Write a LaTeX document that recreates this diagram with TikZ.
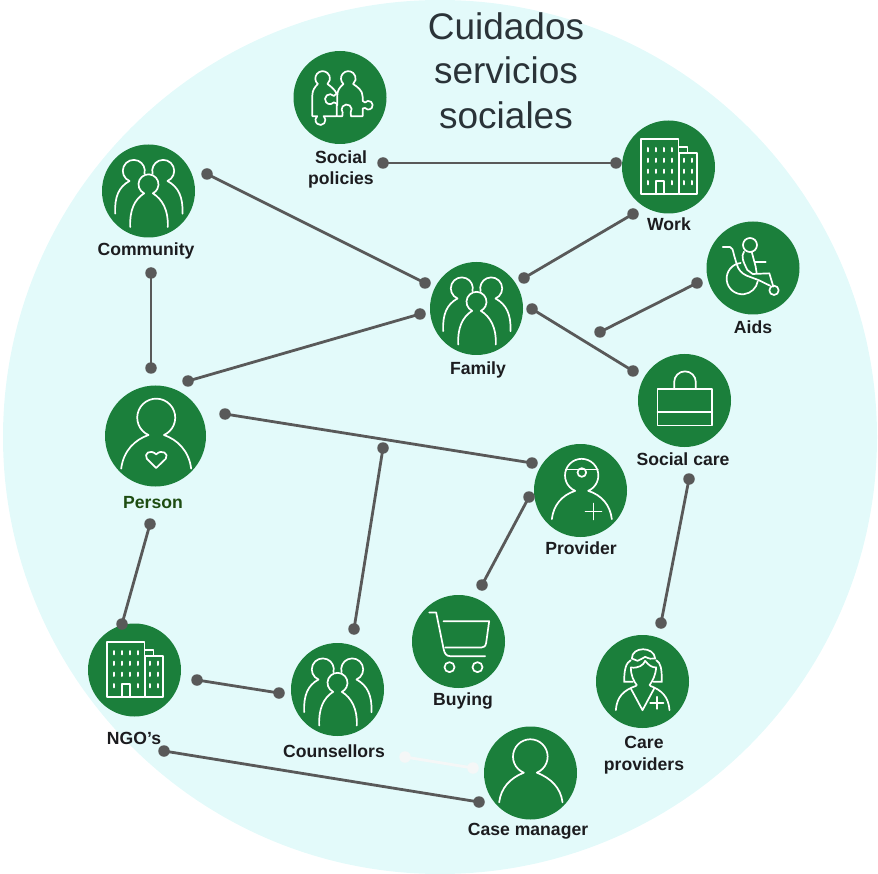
\documentclass[tikz,border=0pt]{standalone}
\usepackage{fontspec}
\setmainfont{Liberation Sans}
\definecolor{bgc}{HTML}{E3FAFA}
\definecolor{hubc}{HTML}{1B7F3B}
\definecolor{linkc}{HTML}{595959}
\definecolor{txtc}{HTML}{1C1C1F}
\definecolor{titlec}{HTML}{2A3338}
\definecolor{personc}{HTML}{1E4D12}
\definecolor{ghostc}{HTML}{F5F7F7}
\tikzset{
  hub/.style={circle,fill=hubc,draw=none,inner sep=0pt,minimum size=93pt},
  bighub/.style={hub,minimum size=101pt},
  dotend/.style={circle,fill=linkc,draw=none,inner sep=0pt,minimum size=11.5pt},
  ghostend/.style={dotend,fill=ghostc},
  link/.style={draw=linkc,line width=2.8pt},
  ghostlink/.style={draw=ghostc,line width=2.8pt},
  lbl/.style={font=\fontsize{17.6}{21.6}\selectfont\bfseries,text=txtc,align=center,inner sep=0pt},
  ttl/.style={font=\fontsize{37}{44.3}\selectfont,text=titlec,align=center,inner sep=0pt},
  iconline/.style={draw=white,line width=1.7pt,line cap=round,line join=round},
  windowline/.style={iconline,line width=2pt}
}
% every icon is drawn in 3x units around its circle's centre
\newcommand{\groupicon}[2]{\begin{scope}[shift={(#1pt,-#2pt)},x=.3333pt,y=-.3333pt,shift={(-160,-167)}]
  \draw[iconline] (60,235) .. controls (58,185) and (70,155) .. (103,137) arc[start angle=113,end angle=375,radius=33];
  \draw[iconline] (262,235) .. controls (264,185) and (250,155) .. (217,137) arc[start angle=67,end angle=-195,radius=33];
  \draw[iconline] (105,275) .. controls (103,225) and (118,192) .. (147,174) arc[start angle=115.7,end angle=424.3,radius=30] .. controls (202,192) and (220,225) .. (218,275);
\end{scope}}
\newcommand{\buildingicon}[2]{\begin{scope}[shift={(#1pt,-#2pt)},x=.3333pt,y=-.3333pt,shift={(-175,-170)}]
  \draw[iconline] (92,87) rectangle (205,252);
  \draw[iconline] (207,127) rectangle (260,252);
  \draw[iconline] (207,110) -- (232,110) -- (232,127);
  \draw[iconline] (138,252) -- (138,212) -- (162,212) -- (162,252);
  \foreach \wx in {112,137,160,185}{\foreach \wy in {118,150,183}{\draw[windowline] (\wx,\wy-5) -- (\wx,\wy+5);}}
  \foreach \wx in {112,185,220,245}{\draw[windowline] (\wx,212) -- (\wx,222);}
  \foreach \wx in {220,245}{\foreach \wy in {150,183}{\draw[windowline] (\wx,\wy-5) -- (\wx,\wy+5);}}
\end{scope}}
\newcommand{\puzzleicon}[2]{\begin{scope}[shift={(#1pt,-#2pt)},x=.3333pt,y=-.3333pt,shift={(-180,-172)}]
  \draw[iconline] (97,228) -- (97,165) .. controls (97,150) and (105,140) .. (113.5,131.6) arc[start angle=131,end angle=409,radius=22] .. controls (155,140) and (165,150) .. (170,160) -- (161.5,167.4) arc[start angle=-40,end angle=-320,radius=15] -- (170,190) -- (170,228) -- (131,228) arc[start angle=-50,end angle=230,radius=15] -- (109,228) -- cycle;
  \draw[iconline] (172,195) -- (172,165) .. controls (172,150) and (180,140) .. (190.5,131.6) arc[start angle=131,end angle=409,radius=22] .. controls (232,140) and (248,150) .. (248,170) -- (248,182) -- (255,187) arc[start angle=-141,end angle=141,radius=13] -- (248,205) -- (248,228) -- (213,228) -- (212,217) arc[start angle=37,end angle=-217,radius=15] -- (187,228) -- (172,228);
\end{scope}}
\newcommand{\wheelicon}[2]{\begin{scope}[shift={(#1pt,-#2pt)},x=.3333pt,y=-.3333pt,shift={(-429,-474)}]
  \draw[iconline] (420,405) circle[radius=21];
  \draw[iconline] (338,411) -- (360,411) .. controls (368,412) and (368,420) .. (372,435) -- (380,462) .. controls (385,480) and (395,490) .. (410,497) -- (445,510) -- (480,527);
  \draw[iconline] (402,425) .. controls (392,440) and (400,455) .. (412,480) -- (428,492) -- (478,490) -- (490,530);
  \draw[iconline] (425,425) -- (437,470) -- (440,490);
  \draw[iconline] (435,456) -- (467,456);
  \draw[iconline] (392,459) arc[start angle=-96,end angle=-350,radius=47];
  \draw[iconline] (492,541) circle[radius=14];
\end{scope}}
\newcommand{\personicon}[2]{\begin{scope}[shift={(#1pt,-#2pt)},x=.3333pt,y=-.3333pt,shift={(-181,-167)}]
  \draw[iconline] (78,265) .. controls (85,210) and (120,178) .. (160,164) arc[start angle=114,end angle=426,radius=57] .. controls (246,178) and (281,210) .. (288,265);
  \draw[iconline] (183,263) -- (155,235) .. controls (145,220) and (165,205) .. (183,222) .. controls (200,205) and (222,220) .. (212,235) -- cycle;
\end{scope}}
\newcommand{\bagicon}[2]{\begin{scope}[shift={(#1pt,-#2pt)},x=.3333pt,y=-.3333pt,shift={(-478,-150)}]
  \draw[iconline] (397,115) rectangle (561,225);
  \draw[iconline] (397,185) -- (561,185);
  \draw[iconline] (447,115) -- (447,95) arc[start angle=180,end angle=360,radius=32.5] -- (512,115);
\end{scope}}
\newcommand{\doctoricon}[2]{\begin{scope}[shift={(#1pt,-#2pt)},x=.3333pt,y=-.3333pt,shift={(-166,-421)}]
  \draw[iconline] (80,507) .. controls (85,465) and (110,435) .. (150,422) arc[start angle=113,end angle=427,radius=50] .. controls (230,435) and (255,465) .. (260,507);
  \draw[iconline] (122,358) -- (218,358);
  \draw[iconline] (170,367) circle[radius=13];
  \draw[iconline] (181,484) -- (229,484);
  \draw[iconline] (205,460) -- (205,508);
\end{scope}}
\newcommand{\carticon}[2]{\begin{scope}[shift={(#1pt,-#2pt)},x=.3333pt,y=-.3333pt,shift={(-175,-154)}]
  \draw[iconline] (87,67) -- (108,67) -- (130,175) .. controls (133,190) and (138,198) .. (150,198) -- (255,198);
  \draw[iconline] (130,93) -- (267,93) -- (258,158) .. controls (256,168) and (252,172) .. (244,172) -- (135,172);
  \draw[iconline] (148,231) circle[radius=15];
  \draw[iconline] (232,231) circle[radius=15];
\end{scope}}
\newcommand{\nurseicon}[2]{\begin{scope}[shift={(#1pt,-#2pt)},x=.3333pt,y=-.3333pt,shift={(-727,-274)}]
  \draw[iconline] (695,205) .. controls (695,168) and (762,168) .. (765,205);
  \draw[iconline] (695,205) -- (712,212) .. controls (720,208) and (728,205) .. (735,200) .. controls (745,205) and (755,208) .. (765,205);
  \draw[iconline] (692,210) .. controls (678,218) and (672,235) .. (672,275) -- (698,275);
  \draw[iconline] (768,210) .. controls (782,218) and (785,235) .. (785,275) -- (760,275);
  \draw[iconline] (692,232) .. controls (715,235) and (730,225) .. (735,212) .. controls (745,225) and (755,232) .. (768,232);
  \draw[iconline] (692,232) .. controls (692,255) and (700,272) .. (710,285);
  \draw[iconline] (768,232) .. controls (766,255) and (758,272) .. (748,285);
  \draw[iconline] (647,360) .. controls (650,320) and (670,300) .. (708,287);
  \draw[iconline] (750,287) .. controls (785,300) and (805,320) .. (808,360);
  \draw[iconline] (692,295) -- (727,360) -- (762,295);
  \draw[iconline] (750,338) -- (790,338);
  \draw[iconline] (770,320) -- (770,356);
\end{scope}}
\newcommand{\usericon}[2]{\begin{scope}[shift={(#1pt,-#2pt)},x=.3333pt,y=-.3333pt,shift={(-391,-550)}]
  \draw[iconline] (297,638) .. controls (302,595) and (330,565) .. (371,549) arc[start angle=112,end angle=428,radius=52] .. controls (452,565) and (482,595) .. (487,638);
\end{scope}}
\begin{document}
\begin{tikzpicture}[x=1pt,y=-1pt]
\useasboundingbox (0,0) rectangle (878,874);
\fill[bgc] (440,437) circle[radius=437];
\node[ttl] (title) at (506,70.5) {Cuidados\\servicios\\sociales};
% circles
\node[hub] (policies) at (340,97.5) {};
\node[hub] (work) at (668.5,167) {};
\node[hub] (community) at (148.5,191) {};
\node[hub] (family) at (476.5,308.5) {};
\node[hub] (aids) at (753,268) {};
\node[bighub] (person) at (155.5,436) {};
\node[hub] (socialcare) at (684.5,400.5) {};
\node[hub] (provider) at (580.5,490.5) {};
\node[hub] (buying) at (458.5,641.5) {};
\node[hub] (careprov) at (642.5,681.5) {};
\node[hub] (ngo) at (134.5,670) {};
\node[hub] (counsellors) at (337.5,689.5) {};
\node[hub] (casemgr) at (530.5,773) {};
% icons
\puzzleicon{340}{97.5}
\buildingicon{668.5}{167}
\groupicon{148.5}{191}
\groupicon{476.5}{308.5}
\wheelicon{753}{268}
\personicon{155.5}{436}
\bagicon{684.5}{400.5}
\doctoricon{580.5}{490.5}
\carticon{458.5}{641.5}
\nurseicon{642.5}{681.5}
\buildingicon{134.5}{670}
\groupicon{337.5}{689.5}
\usericon{530.5}{773}
% connectors
\node[dotend] (a1) at (383,163) {}; \node[dotend] (b1) at (616,163) {};
\node[dotend] (a2) at (207,174) {}; \node[dotend] (b2) at (425,283) {};
\node[dotend] (a3) at (633,214) {}; \node[dotend] (b3) at (524,278) {};
\node[dotend] (a4) at (697,283) {}; \node[dotend] (b4) at (600,332) {};
\node[dotend] (a5) at (532,309) {}; \node[dotend] (b5) at (633,371) {};
\node[dotend] (a6) at (420,314) {}; \node[dotend] (b6) at (188,381) {};
\node[dotend] (a7) at (151,273) {}; \node[dotend] (b7) at (151,368) {};
\node[dotend] (a8) at (225,414) {}; \node[dotend] (b8) at (532,463) {};
\node[dotend] (a9) at (383,448) {}; \node[dotend] (b9) at (354,629) {};
\node[dotend] (a10) at (529,497) {}; \node[dotend] (b10) at (482,585) {};
\node[dotend] (a11) at (689,479) {}; \node[dotend] (b11) at (661,623) {};
\node[dotend] (a12) at (150,524) {}; \node[dotend] (b12) at (122,624) {};
\node[dotend] (a13) at (197,680) {}; \node[dotend] (b13) at (279,693) {};
\node[ghostend] (a14) at (405,757) {}; \node[ghostend] (b14) at (473,768) {};
\node[dotend] (a15) at (164,751) {}; \node[dotend] (b15) at (479,802) {};
\foreach \k in {1,...,13,15}{\draw[link] (a\k.center) -- (b\k.center);}
\draw[ghostlink] (a14.center) -- (b14.center);
% labels
\node[lbl] (lpolicies) at (341,169.5) {Social\\policies};
\node[lbl] (lwork) at (669,224) {Work};
\node[lbl] (lcommunity) at (146,251) {Community};
\node[lbl] (lfamily) at (478,370) {Family};
\node[lbl] (laids) at (753,327) {Aids};
\node[lbl,text=personc] (lperson) at (153,503) {Person};
\node[lbl] (lsocial) at (683,459) {Social care};
\node[lbl] (lprovider) at (581,548) {Provider};
\node[lbl] (lbuying) at (463,701) {Buying};
\node[lbl] (lcare) at (644,755) {Care\\providers};
\node[lbl] (lngo) at (134,738) {NGO’s};
\node[lbl] (lcounsellors) at (334,751) {Counsellors};
\node[lbl] (lcase) at (528,831) {Case manager};
\end{tikzpicture}
\end{document}
